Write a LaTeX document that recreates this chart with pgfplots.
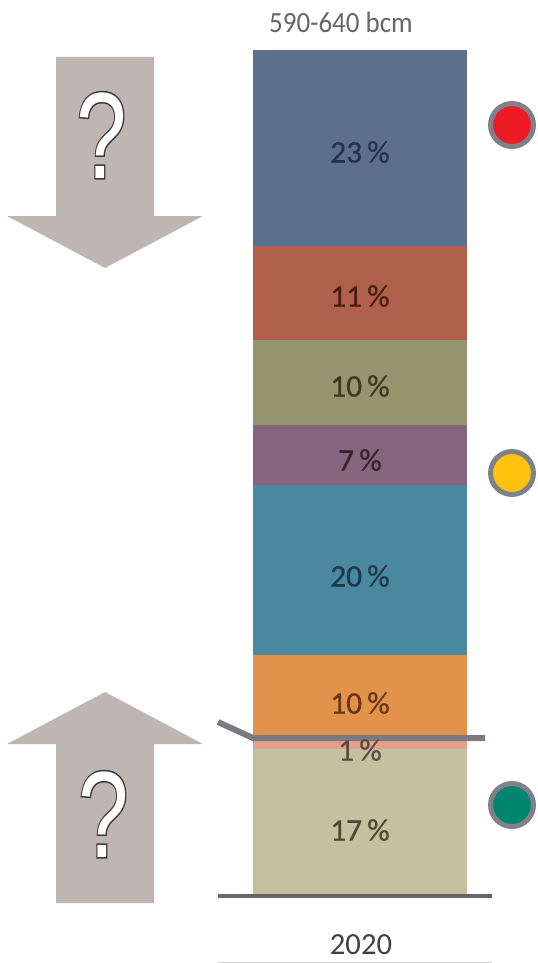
\documentclass[border=0pt]{standalone}
\usepackage{fontspec}
\setmainfont{Carlito}
\newfontfamily\qfont{Liberation Sans}
\newfontfamily\qfontbold[FakeBold=2.5]{Liberation Sans}
\newfontfamily\lfont[FakeBold=0.6]{Carlito}
\usepackage{pgfplots}
\pgfplotsset{compat=1.18}

\definecolor{cA}{HTML}{C3C1A0}
\definecolor{cB}{HTML}{E3A08A}
\definecolor{cC}{HTML}{E2934B}
\definecolor{cD}{HTML}{4A88A0}
\definecolor{cE}{HTML}{86667F}
\definecolor{cF}{HTML}{979570}
\definecolor{cG}{HTML}{B0614B}
\definecolor{cH}{HTML}{5C708E}
\definecolor{arrowc}{HTML}{BFB5B2}
\definecolor{ringc}{HTML}{80808A}
\definecolor{dotred}{HTML}{ED1C24}
\definecolor{dotyellow}{HTML}{FFC20E}
\definecolor{dotgreen}{HTML}{00866E}
\definecolor{qedge}{HTML}{3A3A3A}

\newcommand{\qm}[2]{%
  \node[text=qedge,font=\qfontbold\fontsize{92}{92}\selectfont,xscale=0.74,anchor=base west,inner sep=0pt] at (axis cs:#1,#2) {?};
  \node[text=white,font=\qfont\fontsize{92}{92}\selectfont,xscale=0.74,anchor=base west,inner sep=0pt] at (axis cs:#1,#2) {?};
}

\begin{document}
\begin{tikzpicture}
\useasboundingbox (0,0) rectangle (402.75pt,722.25pt);
% stacked bar
\begin{axis}[at={(0,0)}, anchor=south west, scale only axis,
  width=402.75pt, height=722.25pt,
  xmin=-360, xmax=177, ymin=-8.094, ymax=104.87,
  hide axis, clip=false, ybar stacked, bar width=214]
\addplot[fill=cA, draw=none] coordinates {(0,17)};
\addplot[fill=cB, draw=none] coordinates {(0,1)};
\addplot[fill=cC, draw=none] coordinates {(0,10)};
\addplot[fill=cD, draw=none] coordinates {(0,20)};
\addplot[fill=cE, draw=none] coordinates {(0,7)};
\addplot[fill=cF, draw=none] coordinates {(0,10)};
\addplot[fill=cG, draw=none] coordinates {(0,11)};
\addplot[fill=cH, draw=none] coordinates {(0,23)};
\end{axis}
% decorations in pixel coordinates
\begin{axis}[at={(0,0)}, anchor=south west, scale only axis,
  width=402.75pt, height=722.25pt,
  xmin=0, xmax=537, ymin=0, ymax=963, y dir=reverse,
  hide axis, clip=false]
% arrows
\addplot[fill=arrowc, draw=none] coordinates {(56,57) (154,57) (154,216) (203,216) (105,268) (7,216) (56,216) (56,57)};
\addplot[fill=arrowc, draw=none] coordinates {(56,903) (154,903) (154,744) (203,744) (105,692) (7,744) (56,744) (56,903)};
% grey line across bar
\addplot[color=ringc!95!black, line width=4.5pt] coordinates {(218,722) (253,738) (485,738)};
% baseline
\addplot[color=black!45!arrowc, line width=3pt] coordinates {(218,896) (492,896)};
\addplot[color=black!18, line width=0.75pt] coordinates {(218,962) (492,962)};
% status dots
\addplot[only marks, mark=*, mark size=16.1pt, mark options={fill=dotred, draw=ringc, line width=3.75pt}] coordinates {(512,125)};
\addplot[only marks, mark=*, mark size=16.1pt, mark options={fill=dotyellow, draw=ringc, line width=3.75pt}] coordinates {(512,473)};
\addplot[only marks, mark=*, mark size=16.1pt, mark options={fill=dotgreen, draw=ringc, line width=3.75pt}] coordinates {(512,805)};
% labels
\node[font=\fontsize{22}{22}\selectfont, text=black!60, xscale=0.92] at (axis cs:341,22) {590-640 bcm};
\node[font=\fontsize{23}{23}\selectfont, text=black!75] at (axis cs:361,945) {2020};
\node[font=\lfont\fontsize{23.5}{23.5}\selectfont, text={rgb,255:red,35;green,49;blue,80}] at (axis cs:360,152) {23\,\%};
\node[font=\lfont\fontsize{23.5}{23.5}\selectfont, text={rgb,255:red,74;green,29;blue,16}] at (axis cs:360,296) {11\,\%};
\node[font=\lfont\fontsize{23.5}{23.5}\selectfont, text={rgb,255:red,61;green,58;blue,32}] at (axis cs:360,386) {10\,\%};
\node[font=\lfont\fontsize{23.5}{23.5}\selectfont, text={rgb,255:red,58;green,32;blue,48}] at (axis cs:360,460) {7\,\%};
\node[font=\lfont\fontsize{23.5}{23.5}\selectfont, text={rgb,255:red,29;green,58;blue,72}] at (axis cs:360,576) {20\,\%};
\node[font=\lfont\fontsize{23.5}{23.5}\selectfont, text={rgb,255:red,106;green,53;blue,16}] at (axis cs:360,703) {10\,\%};
\node[font=\lfont\fontsize{23.5}{23.5}\selectfont, text={rgb,255:red,90;green,74;blue,64}] at (axis cs:360,750) {1\,\%};
\node[font=\lfont\fontsize{23.5}{23.5}\selectfont, text={rgb,255:red,74;green,74;blue,48}] at (axis cs:360,830) {17\,\%};
% question marks (base west anchor)
\qm{76}{178}
\qm{78}{857}
\end{axis}
\end{tikzpicture}
\end{document}
